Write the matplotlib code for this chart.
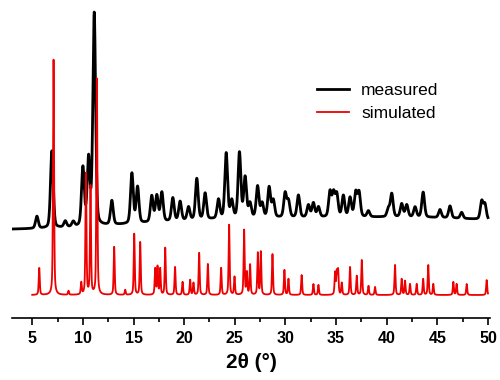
import matplotlib
matplotlib.use("Agg")
import matplotlib.pyplot as plt
import numpy as np

plt.rcParams['font.family'] = ['Liberation Sans', 'DejaVu Sans']

# peak tables: 2theta (deg), height (a.u.)
meas_pos = [5.46, 6.94, 8.26, 9.05, 10.0, 10.56, 11.12, 12.86, 14.84, 15.4,
            16.8, 17.3, 17.8, 18.88, 19.6, 20.43, 21.25, 22.07, 23.39, 24.15,
            24.7, 25.46, 26.02, 26.5, 27.25, 27.7, 28.39, 28.8, 29.97, 30.3,
            31.28, 32.27, 32.76, 33.26, 34.4, 34.75, 35.07, 35.72, 36.38, 36.94,
            37.27, 38.19, 40.16, 40.5, 41.48, 41.98, 42.8, 43.6, 45.26, 46.25,
            47.4, 49.38, 49.7]
meas_h = [12, 77, 6, 5, 58, 66, 212, 24, 50, 36,
          26, 26, 29, 23, 19, 13, 41, 26, 19, 65,
          17, 65, 40, 14, 31, 14, 30, 17, 24, 16,
          22, 12, 14, 10, 25, 23, 22, 21, 19, 24,
          24, 6, 8, 23, 13, 12, 10, 25, 8, 12,
          6, 18, 15]

# broad background humps of the measured pattern
bg_pos = [25, 45]
bg_h = [10, 11]
bg_w = [10, 10]
meas_offset = 65

sim_pos = [5.69, 7.1, 8.58, 9.84, 10.3, 10.75, 11.38, 13.09, 14.18, 15.07,
           15.66, 17.14, 17.37, 17.63, 18.13, 19.1, 19.84, 20.59, 20.92, 21.48,
           22.34, 23.65, 24.44, 24.97, 25.92, 26.19, 26.51, 27.27, 27.57, 28.72,
           29.9, 30.3, 31.6, 32.76, 33.26, 34.9, 35.07, 35.2, 35.56, 36.38,
           37.04, 37.54, 38.2, 38.85, 40.82, 41.48, 41.81, 42.3, 42.96, 43.6,
           44.1, 44.6, 46.58, 46.9, 47.9, 49.87]
sim_h = [27, 236, 4, 12, 121, 108, 216, 48, 5, 61,
         53, 26, 28, 26, 47, 28, 13, 15, 12, 42,
         31, 27, 70, 18, 65, 22, 30, 42, 43, 41,
         25, 16, 20, 11, 10, 22, 22, 24, 12, 28,
         19, 35, 9, 8, 30, 16, 14, 11, 11, 16,
         30, 11, 13, 11, 11, 15]


def pattern(x, pos, h, hw, eta):
    y = np.zeros_like(x)
    for p, a in zip(pos, h):
        d = (x - p) / hw
        y += a * (eta / (1 + d ** 2) + (1 - eta) * np.exp(-np.log(2) * d ** 2))
    return y


x_meas = np.linspace(3.0, 50.0, 4001)
x_sim = np.linspace(5.0, 50.0, 4001)

y_meas = meas_offset + pattern(x_meas, meas_pos, meas_h, 0.16, 0.3)
for p, a, w in zip(bg_pos, bg_h, bg_w):
    y_meas += a * np.exp(-(x_meas - p) ** 2 / (2 * w ** 2))
y_sim = pattern(x_sim, sim_pos, sim_h, 0.06, 0.5)

fig = plt.figure(figsize=(5, 3.8), dpi=100)
ax = fig.add_axes([0.024, 0.163, 0.956, 0.824])

ax.plot(x_meas, y_meas, color='black', lw=2.0, label='measured')
ax.plot(x_sim, y_sim, color='#ee0000', lw=1.3, label='simulated')

ax.set_xlim(3.0, 50.2)
ax.set_ylim(-23, 290)

for s in ['left', 'right', 'top']:
    ax.spines[s].set_visible(False)
ax.spines['bottom'].set_linewidth(1.2)
ax.set_yticks([])
ax.set_xticks(np.arange(5, 51, 5))
ax.set_xticks(np.arange(7.5, 50, 5), minor=True)
ax.tick_params(axis='x', which='major', direction='out', length=5, width=1.2,
               labelsize=11.5, pad=4)
ax.tick_params(axis='x', which='minor', direction='out', length=3, width=1.2)
for lab in ax.get_xticklabels():
    lab.set_fontweight('bold')
ax.set_xlabel('2θ (°)', fontsize=15, fontweight='bold', labelpad=5)

ax.legend(loc='upper left', bbox_to_anchor=(0.605, 0.80), frameon=False,
          fontsize=12.5, handlelength=1.85, handletextpad=0.7, labelspacing=0.45)

fig.savefig('out.png', dpi=100, facecolor='white')
